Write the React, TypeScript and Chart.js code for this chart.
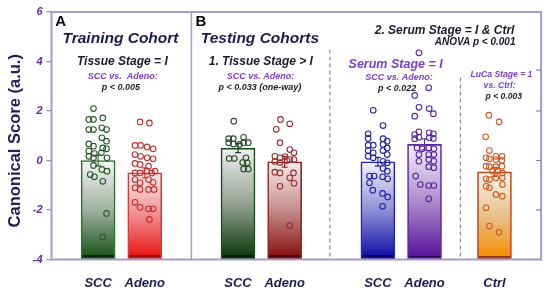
import React, { useEffect, useRef } from 'react';
import { Chart, registerables } from 'chart.js';

Chart.register(...registerables);

// ---- data ----
const groupCenters = [1, 2, 4, 5, 7, 8, 9.5];
const categoryLabels = ['SCC', 'Adeno', 'SCC', 'Adeno', 'SCC', 'Adeno', 'Ctrl'];
const meanScores = [0.0, -0.5, 0.5, -0.05, -0.05, 0.65, -0.46];
const semScores = [0.22, 0.2, 0.18, 0.22, 0.18, 0.22, 0.18];
const yTickValues = [-4, -2, 0, 2, 4, 6];
const rightTickValues = [3.65, 2, 0, -2];

const trainingSccScores = [2.10, 1.66, 1.66, 1.72, 1.25, 1.25, 1.32, 1.25, 0.92, 0.78, 0.67, 0.58, 0.51, 0.47, 0.38, 0.28, 0.31, 0.17, 0.11, 0.11, -0.20, -0.36, -0.43, -0.57, -0.66, -0.84, -2.14, -3.08];
const trainingSccJitter = [-0.10, -0.20, -0.10, 0.10, -0.20, -0.10, 0.08, 0.18, 0.08, 0.18, -0.20, -0.10, 0.10, 0.18, -0.20, -0.08, 0.07, -0.20, -0.10, 0.19, -0.10, 0.08, 0.19, -0.17, -0.08, 0.10, 0.18, 0.10];

const trainingAdenoScores = [1.56, 1.52, 0.61, 0.61, 0.55, 0.47, 0.24, 0.17, 0.11, 0.07, -0.12, -0.16, -0.23, -0.50, -0.50, -0.43, -0.50, -0.43, -0.77, -0.90, -0.77, -0.88, -1.10, -1.17, -1.17, -1.17, -1.69, -1.89, -1.95, -1.95, -2.38];
const trainingAdenoJitter = [-0.10, 0.10, -0.21, -0.09, 0.05, 0.18, -0.21, -0.09, 0.05, 0.18, -0.21, -0.10, 0.08, -0.21, -0.10, 0.04, 0.15, 0.22, -0.21, -0.10, 0.08, 0.18, -0.21, -0.10, 0.08, 0.20, -0.21, -0.10, 0.08, 0.18, 0.10];

const testingSccScores = [1.59, 0.88, 0.88, 0.94, 0.72, 0.67, 0.65, 0.72, 0.72, 0.08, 0.08, 0.11, -0.08, -0.09, -0.34, -0.34];
const testingSccJitter = [-0.09, -0.20, -0.10, 0.12, -0.20, -0.10, 0.03, 0.12, 0.22, -0.19, -0.08, 0.17, 0.10, 0.20, 0.12, 0.22];

const testingAdenoScores = [1.66, 1.48, 1.26, 0.72, 0.44, 0.31, 0.17, 0.11, 0.16, 0.04, 0.04, -0.04, -0.08, 0.0, -0.47, -0.50, -0.50, -0.70, -0.92, -1.04, -2.63];
const testingAdenoJitter = [-0.09, 0.11, -0.18, -0.10, 0.11, 0.20, -0.21, -0.10, 0.01, 0.11, 0.20, -0.21, -0.10, 0.05, -0.21, -0.10, 0.19, 0.11, 0.20, -0.10, 0.11];

const serumSccScores = [2.03, 1.41, 1.08, 0.89, 0.88, 0.78, 0.62, 0.62, 0.65, 0.51, 0.40, 0.31, 0.40, 0.24, 0.17, 0.11, -0.03, -0.09, -0.32, -0.43, -0.63, -0.63, -0.66, -0.74, -0.90, -1.20, -1.33, -1.47, -1.85];
const serumSccJitter = [-0.10, 0.11, -0.21, -0.21, 0.11, 0.20, -0.21, -0.10, 0.11, 0.20, -0.21, -0.10, 0.11, 0.20, -0.21, -0.10, 0.11, 0.20, 0.11, 0.20, -0.18, -0.08, 0.10, 0.21, -0.18, -0.11, 0.10, 0.21, 0.10];

const serumAdenoScores = [4.35, 2.94, 2.63, 2.15, 2.10, 1.89, 1.79, 1.05, 1.16, 1.12, 1.08, 0.88, 0.94, 0.92, 0.89, 0.51, 0.47, 0.51, 0.47, 0.24, 0.24, 0.24, -0.03, 0.04, -0.03, -0.25, -0.29, -0.63, -0.97, -1.01, -1.01, -1.55];
const serumAdenoJitter = [-0.12, 0.09, -0.21, -0.12, 0.10, 0.19, -0.21, -0.21, -0.12, 0.10, 0.19, -0.21, -0.12, 0.10, 0.19, -0.16, -0.05, 0.09, 0.20, -0.12, 0.09, 0.20, -0.12, 0.09, 0.20, 0.09, 0.20, -0.19, -0.09, 0.09, 0.20, 0.09];

const ctrlScores = [1.83, 1.56, 0.96, 0.40, 0.11, 0.07, 0.17, 0.17, 0.04, 0.01, -0.23, -0.25, -0.25, -0.23, -0.43, -0.43, -0.50, -0.74, -0.77, -0.70, -0.70, -1.04, -1.10, -0.97, -1.37, -1.44, -1.91, -2.65, -2.90];
const ctrlJitter = [-0.12, 0.10, -0.19, -0.11, -0.18, -0.11, 0.03, 0.16, 0.03, 0.16, -0.18, -0.11, 0.03, 0.16, -0.04, 0.07, 0.17, -0.18, -0.11, 0.03, 0.17, -0.18, -0.11, 0.17, 0.03, 0.17, -0.18, -0.11, 0.10];

const groupScores = [trainingSccScores, trainingAdenoScores, testingSccScores, testingAdenoScores, serumSccScores, serumAdenoScores, ctrlScores];
const groupJitter = [trainingSccJitter, trainingAdenoJitter, testingSccJitter, testingAdenoJitter, serumSccJitter, serumAdenoJitter, ctrlJitter];

// ---- styles ----
const FONT = '"Liberation Sans", Arial, Helvetica, sans-serif';
const barTop = ['#f6f7f6', '#fdf0f0', '#f0f2f0', '#f8eeee', '#f4f4ff', '#f6f0fb', '#fef8f0'];
const barMid = ['#9fb19f', '#f08a8a', '#93a393', '#c58a8a', '#8e8ed6', '#ab8bcb', '#e8c08a'];
const barBottom = ['#1e561e', '#e81818', '#0f3a0f', '#8a1414', '#1414a8', '#58169a', '#f5900a'];
const barBand = ['#0a260a', '#980c0c', '#061806', '#480606', '#08085a', '#2a0850', '#8a3a08'];
const barBorder = ['#2f6f2f', '#d63a3a', '#1d4a1d', '#942424', '#2424b8', '#5a2aa8', '#b8461a'];
const pointColor = ['#285828', '#c42f2f', '#2a4a2a', '#942f2f', '#24249a', '#55289e', '#cc5a22'];

const frameColor = '#a79bc9';
const navy = '#1c1c4e';
const purple = '#7a3fc8';
const dark = '#1a1a2a';

type Note = { text: string; x: number; y: number; size: number; color: string; align?: CanvasTextAlign; italic?: boolean };
const notes: Note[] = [
  { text: 'A', x: 0.08, y: 5.6, size: 15, color: '#000', align: 'left', italic: false },
  { text: 'B', x: 3.09, y: 5.6, size: 15, color: '#000', align: 'left', italic: false },
  { text: 'Training Cohort', x: 1.48, y: 4.93, size: 15.5, color: navy },
  { text: 'Tissue Stage = I', x: 1.52, y: 3.98, size: 12, color: dark },
  { text: 'SCC vs.  Adeno:', x: 1.53, y: 3.39, size: 9, color: purple },
  { text: 'p < 0.005', x: 1.49, y: 2.95, size: 9, color: dark },
  { text: 'Testing Cohorts', x: 4.47, y: 4.93, size: 15.5, color: navy },
  { text: '1. Tissue Stage > I', x: 4.49, y: 3.98, size: 12, color: dark },
  { text: 'SCC vs. Adeno:', x: 4.48, y: 3.39, size: 9, color: purple },
  { text: 'p < 0.033 (one-way)', x: 4.47, y: 2.95, size: 9, color: dark },
  { text: '2. Serum Stage = I & Ctrl', x: 8.43, y: 5.25, size: 12, color: dark },
  { text: 'ANOVA p < 0.001', x: 9.95, y: 4.77, size: 10, color: dark, align: 'right' },
  { text: 'Serum Stage = I', x: 7.38, y: 3.86, size: 12.5, color: purple },
  { text: 'SCC vs. Adeno:', x: 7.45, y: 3.35, size: 9, color: purple },
  { text: 'p < 0.022', x: 7.41, y: 2.91, size: 9, color: dark },
  { text: 'LuCa Stage = 1', x: 9.65, y: 3.47, size: 8.6, color: purple },
  { text: 'vs. Ctrl:', x: 9.61, y: 3.03, size: 8.6, color: purple },
  { text: 'p < 0.003', x: 9.70, y: 2.59, size: 8.6, color: dark },
];

const solidDividers = [{ x: 3, from: -4, to: 6 }];
const dashedDividers = [{ x: 5.97, from: -4, to: 4.48 }, { x: 8.77, from: -4, to: 3.35 }];

const decorPlugin = {
  id: 'decor',
  beforeDatasetsDraw(chart: any) {
    const { ctx } = chart;
    const xs = chart.scales.x, ys = chart.scales.y;
    ctx.save();
    ctx.strokeStyle = frameColor;
    ctx.lineWidth = 1.6;
    solidDividers.forEach((d) => {
      const px = xs.getPixelForValue(d.x);
      ctx.beginPath();
      ctx.moveTo(px, ys.getPixelForValue(d.to));
      ctx.lineTo(px, ys.getPixelForValue(d.from));
      ctx.stroke();
    });
    ctx.strokeStyle = '#8a8a8a';
    ctx.lineWidth = 1.2;
    ctx.setLineDash([4, 3]);
    dashedDividers.forEach((d) => {
      const px = xs.getPixelForValue(d.x);
      ctx.beginPath();
      ctx.moveTo(px, ys.getPixelForValue(d.to));
      ctx.lineTo(px, ys.getPixelForValue(d.from));
      ctx.stroke();
    });
    ctx.restore();
  },
  afterDatasetDraw(chart: any, args: any) {
    if (args.index !== 0) return;
    const { ctx } = chart;
    const xs = chart.scales.x, ys = chart.scales.y;
    ctx.save();
    ctx.lineWidth = 1.2;
    meanScores.forEach((m, i) => {
      const px = xs.getPixelForValue(groupCenters[i]);
      const hi = ys.getPixelForValue(m + semScores[i]);
      const lo = ys.getPixelForValue(m - semScores[i]);
      ctx.strokeStyle = barBorder[i];
      ctx.beginPath();
      ctx.moveTo(px, lo);
      ctx.lineTo(px, hi);
      ctx.moveTo(px - 3, hi);
      ctx.lineTo(px + 3, hi);
      ctx.moveTo(px - 3, lo);
      ctx.lineTo(px + 3, lo);
      ctx.stroke();
    });
    ctx.restore();
  },
  afterDraw(chart: any) {
    const { ctx, chartArea } = chart;
    const xs = chart.scales.x, ys = chart.scales.y;
    ctx.save();
    ctx.strokeStyle = frameColor;
    ctx.lineWidth = 2;
    ctx.strokeRect(chartArea.left, chartArea.top, chartArea.right - chartArea.left, chartArea.bottom - chartArea.top);
    ctx.lineWidth = 1.2;
    ctx.strokeStyle = '#8a7cc0';
    rightTickValues.forEach((v) => {
      const py = ys.getPixelForValue(v);
      ctx.beginPath();
      ctx.moveTo(chartArea.right, py);
      ctx.lineTo(chartArea.right - 5, py);
      ctx.stroke();
    });
    ctx.textBaseline = 'middle';
    notes.forEach((n) => {
      ctx.font = `${n.italic === false ? '' : 'italic '}bold ${n.size}px ${FONT}`;
      ctx.fillStyle = n.color;
      ctx.textAlign = n.align || 'center';
      ctx.fillText(n.text, xs.getPixelForValue(n.x), ys.getPixelForValue(n.y));
    });
    ctx.translate(15, (chartArea.top + chartArea.bottom) / 2 + 5);
    ctx.rotate(-Math.PI / 2);
    ctx.font = `bold 16.5px ${FONT}`;
    ctx.fillStyle = '#20205a';
    ctx.textAlign = 'center';
    ctx.fillText('Canonical Score (a.u.)', 0, 0);
    ctx.restore();
  },
};

export default function App() {
  const ref = useRef<HTMLCanvasElement | null>(null);

  useEffect(() => {
    if (!ref.current) return;
    const barGradient = (c: any) => {
      const chart = c.chart;
      const i = c.dataIndex;
      if (!chart.chartArea || i === undefined) return barBottom[i || 0];
      const ys = chart.scales.y;
      const top = ys.getPixelForValue(meanScores[i]);
      const bottom = ys.getPixelForValue(-4);
      const g = chart.ctx.createLinearGradient(0, top, 0, bottom);
      const h = Math.max(bottom - top, 1);
      const bandStart = Math.max(0, Math.min(1, (h - 4) / h));
      g.addColorStop(0, barTop[i]);
      g.addColorStop(0.5, barMid[i]);
      g.addColorStop(bandStart, barBottom[i]);
      g.addColorStop(bandStart, barBand[i]);
      g.addColorStop(1, barBand[i]);
      return g;
    };

    const scatterSets = groupScores.map((vals, gi) => ({
      type: 'scatter' as const,
      data: vals.map((v, k) => ({ x: groupCenters[gi] + groupJitter[gi][k], y: v })),
      pointRadius: 2.8,
      pointBorderWidth: 1.1,
      pointBorderColor: pointColor[gi],
      pointBackgroundColor: 'rgba(0,0,0,0)',
      pointHoverRadius: 2.8,
      order: 0,
    }));

    const chart = new Chart(ref.current, {
      type: 'bar',
      data: {
        datasets: [
          {
            type: 'bar',
            data: meanScores.map((m, i) => ({ x: groupCenters[i], y: m })),
            base: -4,
            barThickness: 34,
            backgroundColor: barGradient,
            borderColor: barBorder,
            borderWidth: 1.6,
            borderSkipped: false,
            order: 1,
          } as any,
          ...scatterSets,
        ],
      },
      options: {
        animation: false,
        responsive: false,
        maintainAspectRatio: false,
        layout: { padding: { top: 12, right: 3.3, left: 0, bottom: 0 } },
        plugins: { legend: { display: false }, tooltip: { enabled: false }, title: { display: false } },
        scales: {
          x: {
            type: 'linear',
            min: 0,
            max: 10.5,
            offset: false,
            grid: { display: false },
            border: { display: false },
            afterBuildTicks: (s: any) => {
              s.ticks = groupCenters.map((v) => ({ value: v }));
            },
            afterFit: (s: any) => {
              s.height = 29.5;
            },
            ticks: {
              autoSkip: false,
              maxRotation: 0,
              padding: 8,
              color: navy,
              font: { family: FONT, size: 13, weight: 'bold', style: 'italic' },
              callback: (_v: any, idx: number) => categoryLabels[idx],
            },
          },
          y: {
            type: 'linear',
            min: -4,
            max: 6,
            afterBuildTicks: (s: any) => {
              s.ticks = yTickValues.map((v) => ({ value: v }));
            },
            afterFit: (s: any) => {
              s.width = 51.5;
            },
            grid: { drawOnChartArea: false, tickLength: 5, tickColor: '#9a8cc6', lineWidth: 1.3 },
            border: { display: false },
            ticks: {
              padding: 4,
              color: '#5b2d9e',
              font: { family: FONT, size: 11, weight: 'bold', style: 'italic' },
            },
          },
        },
      } as any,
      plugins: [decorPlugin],
    });
    return () => chart.destroy();
  }, []);

  return (
    <div style={{ position: 'fixed', left: 0, top: 0, width: 545, height: 289, background: '#fff' }}>
      <canvas ref={ref} width={545} height={289} style={{ width: 545, height: 289, display: 'block' }} />
    </div>
  );
}
